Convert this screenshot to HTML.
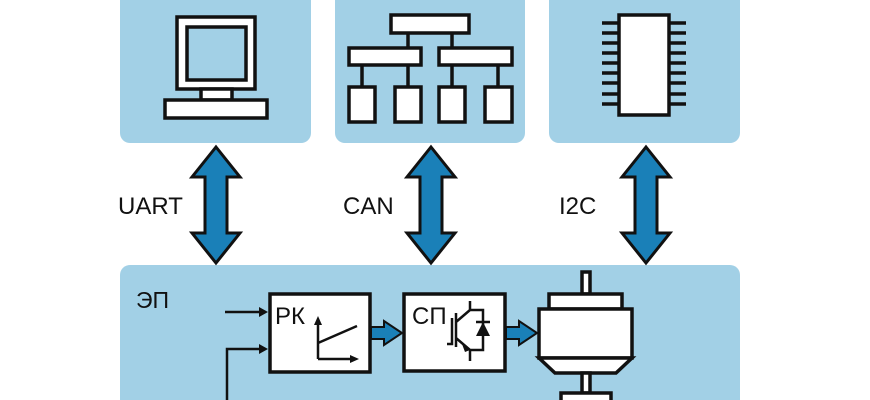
<!DOCTYPE html>
<html><head><meta charset="utf-8"><style>
body{margin:0;background:#fff;}
svg{display:block}
text{font-family:"Liberation Sans",sans-serif;}
</style></head><body>
<svg width="870" height="400" viewBox="0 0 870 400" xmlns="http://www.w3.org/2000/svg">
<defs>
<g id="dar">
<polygon points="0,-58 24,-28 11,-28 11,28 24,28 0,58 -24,28 -11,28 -11,-28 -24,-28" fill="#1a80b8" stroke="#111" stroke-width="3" stroke-linejoin="miter"/>
</g>
</defs>
<rect x="120" y="-12" width="191" height="155" rx="10" fill="#a2d0e6"/>
<rect x="335" y="-12" width="190" height="155" rx="10" fill="#a2d0e6"/>
<rect x="549" y="-12" width="191" height="155" rx="10" fill="#a2d0e6"/>
<rect x="120" y="265" width="620" height="150" rx="10" fill="#a2d0e6"/>

<g stroke="#111" stroke-width="3.5" fill="#fff">
<rect x="177" y="17" width="78" height="72"/>
<rect x="187" y="27" width="59" height="53" fill="#a2d0e6"/>
<rect x="201" y="89" width="31" height="11"/>
<rect x="165" y="100" width="102" height="18"/>
<path d="M408 33V47M452 33V47M362 65V87M408 65V87M452 65V87M498 65V87" fill="none"/>
<rect x="391" y="15" width="78" height="18"/>
<rect x="349" y="48" width="72" height="17"/>
<rect x="439" y="48" width="73" height="17"/>
<rect x="349" y="87" width="26" height="35"/>
<rect x="395" y="87" width="26" height="35"/>
<rect x="439" y="87" width="26" height="35"/>
<rect x="485" y="87" width="27" height="35"/>
<path d="M602 23h17M602 33h17M602 43h17M602 53h17M602 63h17M602 73h17M602 83h17M602 94h17M602 104h17M669 23h17M669 33h17M669 43h17M669 53h17M669 63h17M669 73h17M669 83h17M669 94h17M669 104h17" fill="none"/>
<rect x="619" y="15" width="50" height="100"/>
<rect x="270" y="294" width="100" height="78"/>
<rect x="404" y="294" width="101" height="77"/>
<rect x="582" y="272" width="8" height="22"/>
<rect x="549" y="294" width="73" height="15"/>
<rect x="539" y="309" width="93" height="49"/>
<polygon points="539,358 632,358 616,373 555,373"/>
<rect x="582" y="373" width="8" height="20"/>
<rect x="561" y="393" width="50" height="20"/>
</g>

<use href="#dar" x="216" y="205"/>
<use href="#dar" x="431" y="205"/>
<use href="#dar" x="646" y="205"/>

<text x="118" y="214" font-size="24" fill="#111">UART</text>
<text x="343" y="214" font-size="24" fill="#111">CAN</text>
<text x="559" y="214" font-size="24" fill="#111">I2C</text>
<text x="136" y="308" font-size="23" fill="#111">ЭП</text>
<text x="275" y="324" font-size="24" fill="#111">РК</text>
<text x="412" y="324" font-size="24" fill="#111">СП</text>

<g stroke="#111" stroke-width="2.5" fill="none">
<path d="M225 312H262"/>
<path d="M227 400V349H262"/>
<path d="M318 359V322M318 359H352M318 343L357 326"/>
<path d="M447 344H452V318M456 313V347M456 322L470 310V301M456 338L470 350V361M470 310H483V350H470M476 322H490"/>
</g>
<g fill="#111">
<polygon points="268,312 259,307 259,317"/>
<polygon points="268,349 259,344 259,354"/>
<polygon points="318,316 314,325 322,325"/>
<polygon points="359,359 350,355 350,363"/>
<polygon points="483,322 476,336 490,336"/>
<polygon points="470,350 462,344 465,352"/>
</g>
<g fill="#1a80b8" stroke="#111" stroke-width="2">
<polygon points="371,327 384,327 384,321 402,333 384,345 384,339 371,339"/>
<polygon points="506,327 519,327 519,321 537,333 519,345 519,339 506,339"/>
</g>
</svg>
</body></html>
